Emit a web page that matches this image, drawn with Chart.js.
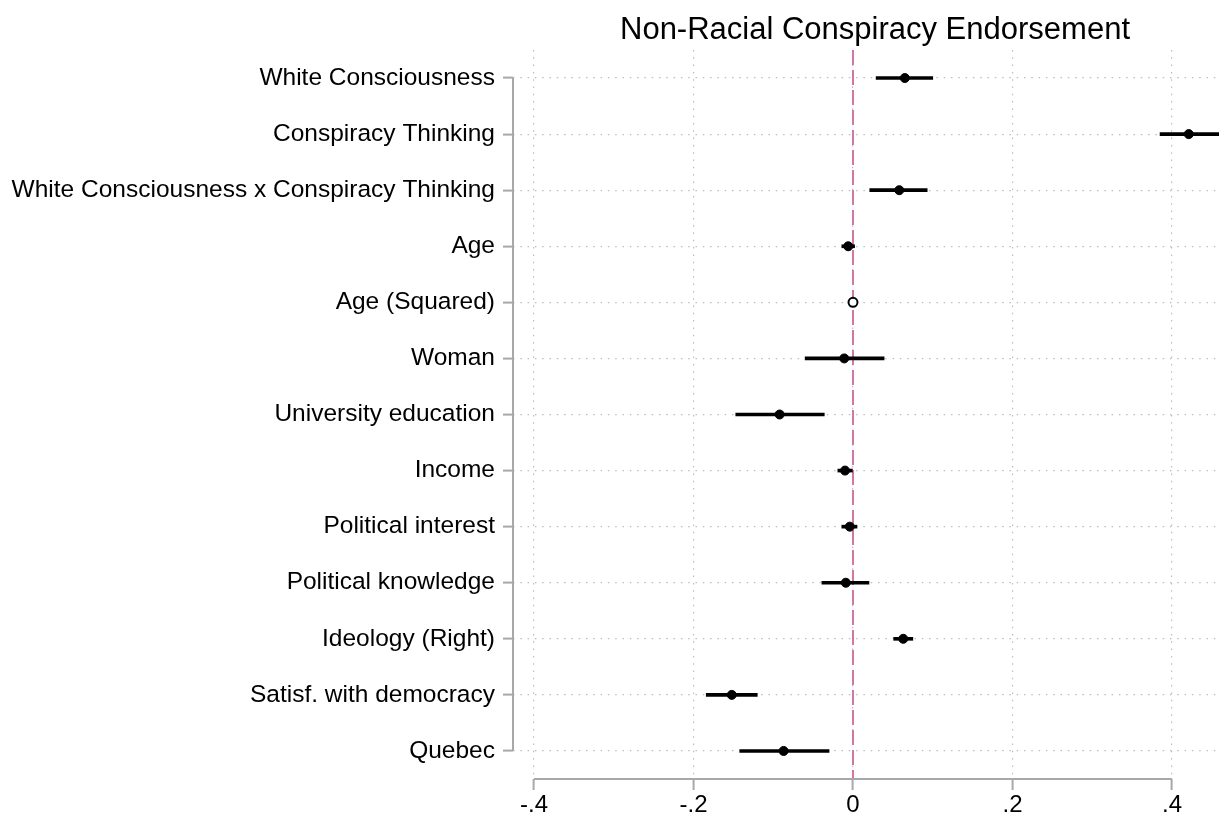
<!DOCTYPE html>
<html>
<head>
<meta charset="utf-8">
<script src="https://cdn.jsdelivr.net/npm/chart.js@4"></script>
<style>
  html, body { margin: 0; padding: 0; background: #fff; }
  #wrap { width: 1219px; height: 817px; position: relative; }
</style>
</head>
<body>
<div id="wrap"><canvas id="coefplot"></canvas></div>
<script>
const titleText = "Non-Racial Conspiracy Endorsement";

const categories = [
  "White Consciousness",
  "Conspiracy Thinking",
  "White Consciousness x Conspiracy Thinking",
  "Age",
  "Age (Squared)",
  "Woman",
  "University education",
  "Income",
  "Political interest",
  "Political knowledge",
  "Ideology (Right)",
  "Satisf. with democracy",
  "Quebec"
];

// point estimates
const coefs = [0.065, 0.421, 0.058, -0.006, 0.0, -0.011, -0.092, -0.010, -0.004, -0.009, 0.063, -0.152, -0.087];
// 95% CI bounds (null = too small to show)
const ciLow = [0.029, 0.385, 0.021, -0.014, null, -0.060, -0.147, -0.019, -0.014, -0.039, 0.051, -0.184, -0.142];
const ciHigh = [0.100, 0.470, 0.093, 0.002, null, 0.039, -0.036, 0.000, 0.005, 0.020, 0.075, -0.120, -0.030];
// coefficients drawn as hollow markers
const hollow = ["Age (Squared)"];

const xTicks = [-0.4, -0.2, 0, 0.2, 0.4];
const xMin = -0.4263;
const xMax = 0.4589;

const FONT = '"Liberation Sans", Arial, Helvetica, sans-serif';
const AXIS_GRAY = "#a8a8a8";
const GRID_GRAY = "#bdbdbd";

function fmtTick(v) {
  if (Math.abs(v) < 1e-9) return "0";
  let s = v.toFixed(1);
  return s.replace("0.", ".");
}

const ciData = categories.map((c, i) =>
  ciLow[i] == null ? null : [ciLow[i], ciHigh[i]]
);

// axis lines (Stata style: only span the ticks), zero line and title
const decorPlugin = {
  id: "decor",
  beforeDatasetsDraw(chart) {
    const ctx = chart.ctx;
    const area = chart.chartArea;
    const xs = chart.scales.x;
    ctx.save();
    // reference line at 0
    const x0 = xs.getPixelForValue(0);
    ctx.strokeStyle = "#d276a4";
    ctx.lineWidth = 2;
    ctx.setLineDash([15, 5]);
    ctx.beginPath();
    ctx.moveTo(x0, area.top);
    ctx.lineTo(x0, area.bottom);
    ctx.stroke();
    ctx.restore();
  },
  afterDraw(chart) {
    const ctx = chart.ctx;
    const area = chart.chartArea;
    const xs = chart.scales.x;
    const ys = chart.scales.y;
    ctx.save();
    ctx.strokeStyle = AXIS_GRAY;
    ctx.lineWidth = 2;
    ctx.setLineDash([]);
    // y axis
    ctx.beginPath();
    ctx.moveTo(area.left, ys.getPixelForValue(0));
    ctx.lineTo(area.left, ys.getPixelForValue(categories.length - 1));
    ctx.stroke();
    // x axis
    ctx.beginPath();
    ctx.moveTo(xs.getPixelForValue(xTicks[0]), area.bottom);
    ctx.lineTo(xs.getPixelForValue(xTicks[xTicks.length - 1]), area.bottom);
    ctx.stroke();
    // title
    ctx.fillStyle = "#000";
    ctx.font = "31px " + FONT;
    ctx.textAlign = "center";
    ctx.textBaseline = "middle";
    ctx.fillText(titleText, 875, 30);
    ctx.restore();
  }
};

new Chart(document.getElementById("coefplot").getContext("2d"), {
  type: "bar",
  data: {
    labels: categories,
    datasets: [
      {
        type: "line",
        label: "estimate",
        data: coefs,
        indexAxis: "y",
        showLine: false,
        order: 0,
        pointRadius: 4.5,
        pointHoverRadius: 4.5,
        pointBorderWidth: categories.map(c => (hollow.includes(c) ? 2 : 1)),
        pointBorderColor: "#000",
        pointBackgroundColor: categories.map(c => (hollow.includes(c) ? "#fff" : "#000")),
        clip: false
      },
      {
        label: "95% CI",
        data: ciData,
        indexAxis: "y",
        order: 1,
        backgroundColor: "#000",
        borderWidth: 0,
        barThickness: 3,
        borderSkipped: false
      }
    ]
  },
  options: {
    indexAxis: "y",
    responsive: true,
    maintainAspectRatio: false,
    animation: false,
    layout: { autoPadding: false, padding: { top: 50, left: 0, right: 0, bottom: 0 } },
    plugins: {
      legend: { display: false },
      tooltip: { enabled: false },
      title: { display: false }
    },
    scales: {
      x: {
        type: "linear",
        min: xMin,
        max: xMax,
        afterBuildTicks: (scale) => {
          scale.ticks = xTicks.map(v => ({ value: v }));
        },
        afterFit: (scale) => {
          scale.height = 38;
        },
        border: { display: false, dash: [1.5, 5.8] },
        grid: {
          color: GRID_GRAY,
          lineWidth: 1.2,
          drawTicks: true,
          tickLength: 11,
          tickColor: AXIS_GRAY,
          tickWidth: 2,
          tickBorderDash: []
        },
        ticks: {
          callback: (v) => fmtTick(v),
          color: "#000",
          font: { family: FONT, size: 24 },
          padding: 1,
          maxRotation: 0,
          autoSkip: false
        }
      },
      y: {
        type: "category",
        offset: true,
        afterFit: (scale) => {
          scale.width = 513;
        },
        border: { display: false, dash: [1.5, 5.8] },
        grid: {
          offset: false,
          color: GRID_GRAY,
          lineWidth: 1.2,
          drawTicks: true,
          tickLength: 10,
          tickColor: AXIS_GRAY,
          tickWidth: 2,
          tickBorderDash: []
        },
        ticks: {
          color: "#000",
          font: { family: FONT, size: 24.5 },
          padding: 8,
          autoSkip: false
        }
      }
    }
  },
  plugins: [decorPlugin]
});
</script>
</body>
</html>
